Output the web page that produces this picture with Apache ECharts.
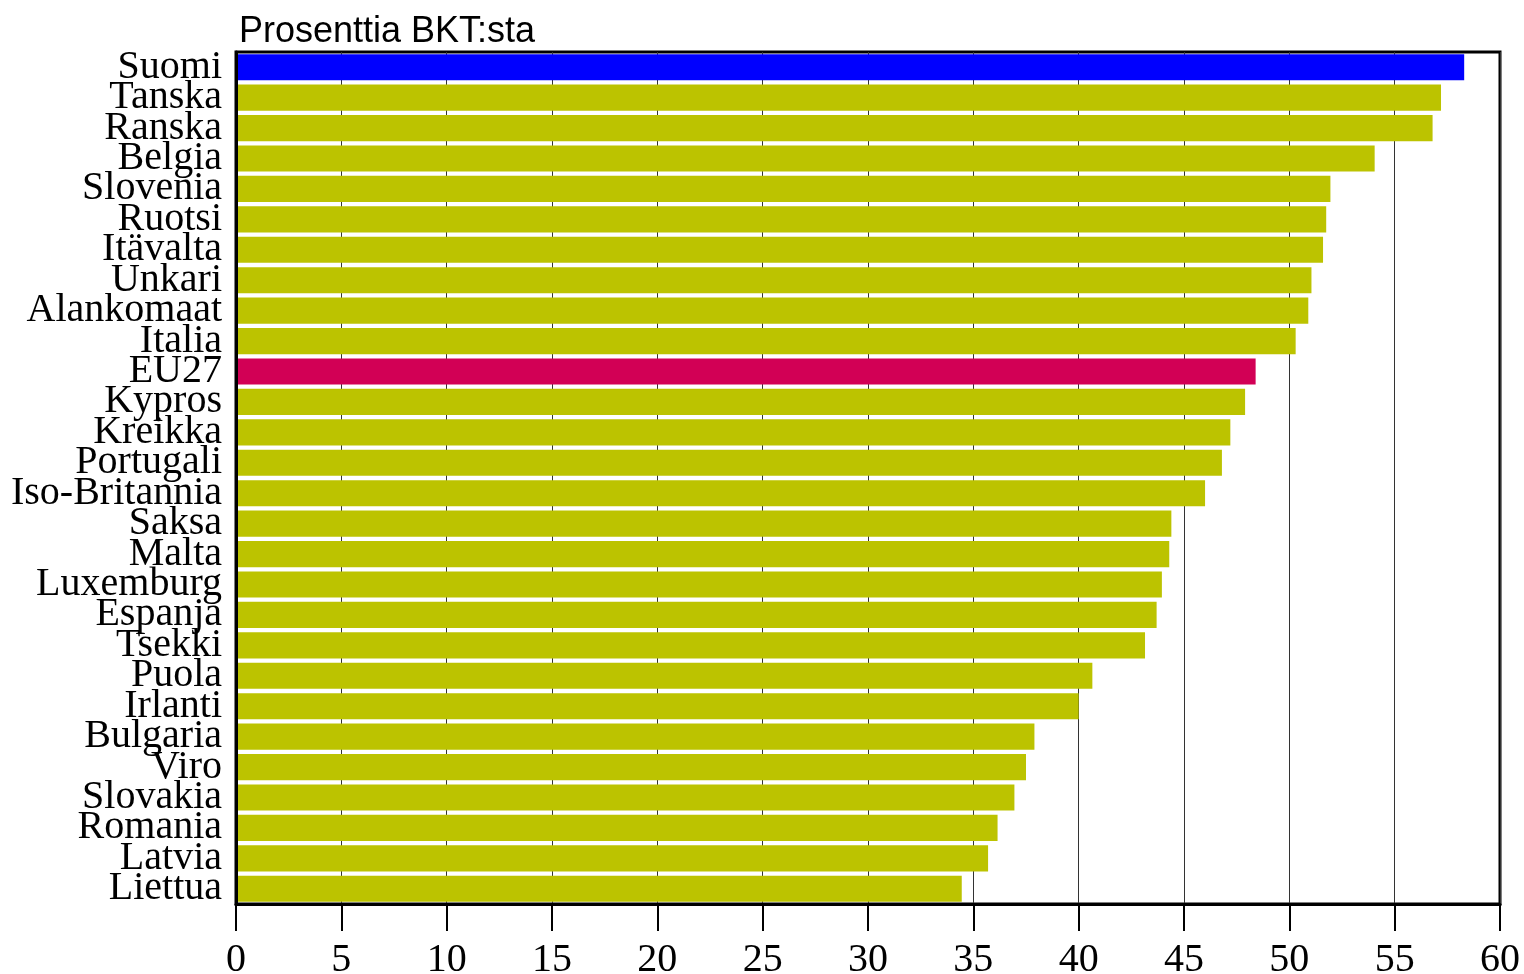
<!DOCTYPE html>
<html>
<head>
<meta charset="utf-8">
<script src="https://cdn.jsdelivr.net/npm/echarts@6/dist/echarts.min.js"></script>
<style>
html,body{margin:0;padding:0;background:#fff;}
#chart{width:1524px;height:974px;}
</style>
</head>
<body>
<div id="chart"></div>
<script>
const categories = ["Suomi","Tanska","Ranska","Belgia","Slovenia","Ruotsi","Itävalta","Unkari","Alankomaat","Italia","EU27","Kypros","Kreikka","Portugali","Iso-Britannia","Saksa","Malta","Luxemburg","Espanja","Tsekki","Puola","Irlanti","Bulgaria","Viro","Slovakia","Romania","Latvia","Liettua"];
const values = [58.3,57.2,56.8,54.05,51.95,51.75,51.6,51.05,50.9,50.3,48.4,47.9,47.2,46.8,46.0,44.4,44.3,43.95,43.7,43.15,40.65,40.0,37.9,37.5,36.95,36.15,35.7,34.45];
const xTicks = [0,5,10,15,20,25,30,35,40,45,50,55,60];
const titleText = "Prosenttia BKT:sta";

const defaultColor = '#BCC300';
const highlightColors = {"Suomi":"#0000FF","EU27":"#D20055"};
const serif = 'Liberation Serif, Times New Roman, serif';

const chart = echarts.init(document.getElementById('chart'), null, {renderer:'canvas'});
const xMin = xTicks[0], xMax = xTicks[xTicks.length-1];
chart.setOption({
  animation:false,
  backgroundColor:'#fff',
  title:{
    text:titleText,
    left:234, top:9,
    textStyle:{fontFamily:'Liberation Sans, Arial, sans-serif',fontSize:36,fontWeight:'normal',color:'#000'}
  },
  grid:{left:236,right:24,top:52,bottom:70,containLabel:false,outerBoundsMode:'none',show:true,borderColor:'#000',borderWidth:3,backgroundColor:'transparent'},
  xAxis:[{
    type:'value',min:xMin,max:xMax,interval:5,
    z:10,
    axisLine:{show:true,lineStyle:{color:'#000',width:3}},
    axisTick:{show:true,length:27,lineStyle:{color:'#000',width:2}},
    axisLabel:{margin:36,fontFamily:serif,fontSize:40,color:'#000'},
    splitLine:{show:false}
  },{
    type:'value',min:xMin,max:xMax,interval:5,position:'bottom',
    z:0,
    axisLine:{show:false},axisTick:{show:false},axisLabel:{show:false},
    splitLine:{show:true,lineStyle:{color:'#333',width:1}}
  }],
  yAxis:{
    type:'category',data:categories,inverse:true,
    z:10,
    axisLine:{show:true,lineStyle:{color:'#000',width:3}},
    axisTick:{show:false},
    axisLabel:{interval:0,margin:14,fontFamily:serif,fontSize:40,color:'#000'},
    splitLine:{show:false}
  },
  series:[{
    type:'bar',
    xAxisIndex:0,
    data:values.map((v,i)=>({value:v,itemStyle:{color:highlightColors[categories[i]]||defaultColor}})),
    barCategoryGap:'14%',
    itemStyle:{color:defaultColor}
  }]
});
</script>
</body>
</html>
